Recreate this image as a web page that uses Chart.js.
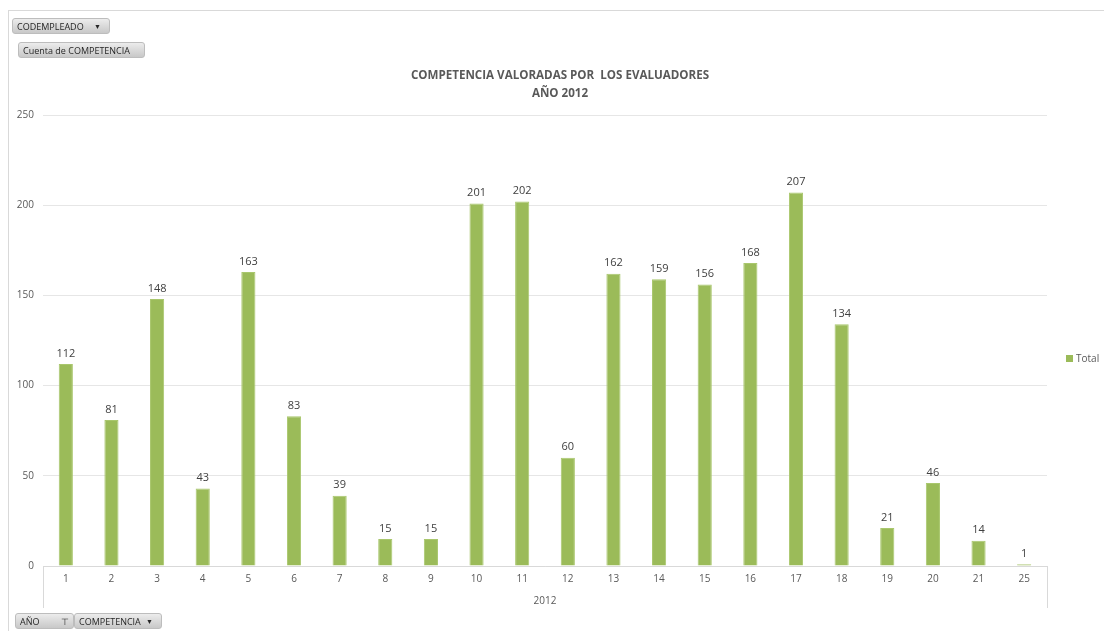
<!DOCTYPE html>
<html lang="es">
<head>
    <meta charset="UTF-8">
    <title>Competencia valoradas por los evaluadores 2012</title>
    <script src="https://cdn.jsdelivr.net/npm/chart.js"></script>
    <style>
        body {
            margin: 0;
            padding: 0;
            background: #ffffff;
            font-family: 'Open Sans', 'Liberation Sans', sans-serif;
        }
        #wrap {
            position: relative;
            width: 1104px;
            height: 631px;
            overflow: hidden;
        }
        #frame {
            position: absolute;
            left: 8px;
            top: 10px;
            width: 1110px;
            height: 640px;
            border-left: 1px solid #d9d9d9;
            border-top: 1px solid #d9d9d9;
        }
        canvas {
            position: absolute;
            left: 0;
            top: 0;
        }
        .pivot {
            position: absolute;
            height: 16px;
            line-height: 16px;
            font-size: 9px;
            color: #262626;
            padding-left: 4px;
            box-sizing: border-box;
            border-radius: 3px;
            background: linear-gradient(#ececec, #c8c8c8);
            border: 1px solid #bdbdbd;
            white-space: nowrap;
        }
        .pivot .arr {
            position: absolute;
            right: 8px;
            top: 0;
            font-size: 7px;
        }
        #legend {
            position: absolute;
            left: 1066px;
            top: 351px;
            font-size: 10px;
            color: #595959;
            line-height: 14px;
        }
        #legend span.box {
            display: inline-block;
            width: 7px;
            height: 7px;
            margin-right: 3px;
            vertical-align: 0px;
        }
    </style>
</head>
<body>
<div id="wrap">
    <div id="frame"></div>
    <canvas id="chart" width="1104" height="631"></canvas>
    <div class="pivot" style="left:12px; top:18px; width:98px;">CODEMPLEADO<span class="arr">&#9660;</span></div>
    <div class="pivot" style="left:18px; top:42px; width:127px;">Cuenta de COMPETENCIA</div>
    <div class="pivot" style="left:15px; top:613px; width:59px;">AÑO<span class="arr" style="right:4px; font-size:9px;">&#8868;</span></div>
    <div class="pivot" style="left:74px; top:613px; width:88px;">COMPETENCIA<span class="arr">&#9660;</span></div>
    <div id="legend"><span class="box" id="legendBox"></span>Total</div>
</div>

<script>
    const categories = ['1', '2', '3', '4', '5', '6', '7', '8', '9', '10', '11',
        '12', '13', '14', '15', '16', '17', '18', '19', '20', '21', '25'];
    const totals = [112, 81, 148, 43, 163, 83, 39, 15, 15, 201, 202,
        60, 162, 159, 156, 168, 207, 134, 21, 46, 14, 1];
    const yearLabel = '2012';
    const titleLines = ['COMPETENCIA VALORADAS POR  LOS EVALUADORES', 'AÑO 2012'];
    const yTicks = [0, 50, 100, 150, 200, 250];

    const barColor = '#9bbb59';
    document.getElementById('legendBox').style.background = barColor;

    // data labels, title and the year group label
    const extrasPlugin = {
        id: 'extras',
        afterDatasetsDraw(chart) {
            const ctx = chart.ctx;
            const meta = chart.getDatasetMeta(0);
            ctx.save();
            ctx.font = '11px "Open Sans", "Liberation Sans", sans-serif';
            ctx.fillStyle = '#404040';
            ctx.textAlign = 'center';
            ctx.textBaseline = 'bottom';
            meta.data.forEach((bar, i) => {
                ctx.fillText(String(totals[i]), bar.x, bar.y - 5);
            });
            ctx.restore();
        },
        afterDraw(chart) {
            const ctx = chart.ctx;
            const area = chart.chartArea;
            ctx.save();
            // title
            ctx.font = 'bold 11.6px "Open Sans", "Liberation Sans", sans-serif';
            ctx.fillStyle = '#595959';
            ctx.textAlign = 'center';
            ctx.textBaseline = 'middle';
            ctx.fillText(titleLines[0], 560, 76);
            ctx.fillText(titleLines[1], 560, 94);

            // group separators below the axis
            ctx.strokeStyle = '#d9d9d9';
            ctx.lineWidth = 1;
            ctx.beginPath();
            ctx.moveTo(Math.round(area.left) + 0.5, area.bottom);
            ctx.lineTo(Math.round(area.left) + 0.5, 608);
            ctx.moveTo(Math.round(area.right) + 0.5, area.bottom);
            ctx.lineTo(Math.round(area.right) + 0.5, 608);
            ctx.stroke();

            // year label
            ctx.font = '10px "Open Sans", "Liberation Sans", sans-serif';
            ctx.fillStyle = '#595959';
            ctx.fillText(yearLabel, (area.left + area.right) / 2, 601);
            ctx.restore();
        }
    };

    new Chart(document.getElementById('chart'), {
        type: 'bar',
        data: {
            labels: categories,
            datasets: [{
                label: 'Total',
                data: totals,
                backgroundColor: barColor,
                borderColor: '#a9c76d',
                borderWidth: 1,
                barPercentage: 0.62,
                categoryPercentage: 0.5
            }]
        },
        options: {
            responsive: false,
            animation: false,
            layout: {
                padding: { left: 0, top: 115, right: 57, bottom: 23 }
            },
            plugins: {
                legend: { display: false },
                title: { display: false },
                tooltip: { enabled: false }
            },
            scales: {
                x: {
                    grid: { display: false, drawTicks: false },
                    border: { display: true, color: '#d9d9d9' },
                    ticks: {
                        padding: 7,
                        color: '#595959',
                        font: { family: '"Open Sans", "Liberation Sans", sans-serif', size: 10 },
                        maxRotation: 0,
                        autoSkip: false
                    },
                    afterFit(scale) { scale.height = 42; }
                },
                y: {
                    min: 0,
                    max: 250,
                    afterBuildTicks(scale) {
                        scale.ticks = yTicks.map(v => ({ value: v }));
                    },
                    grid: { color: '#e6e6e6', drawTicks: false },
                    border: { display: false },
                    ticks: {
                        padding: 9,
                        color: '#595959',
                        font: { family: '"Open Sans", "Liberation Sans", sans-serif', size: 10 }
                    },
                    afterFit(scale) { scale.width = 43; }
                }
            }
        },
        plugins: [extrasPlugin]
    });
</script>
</body>
</html>
